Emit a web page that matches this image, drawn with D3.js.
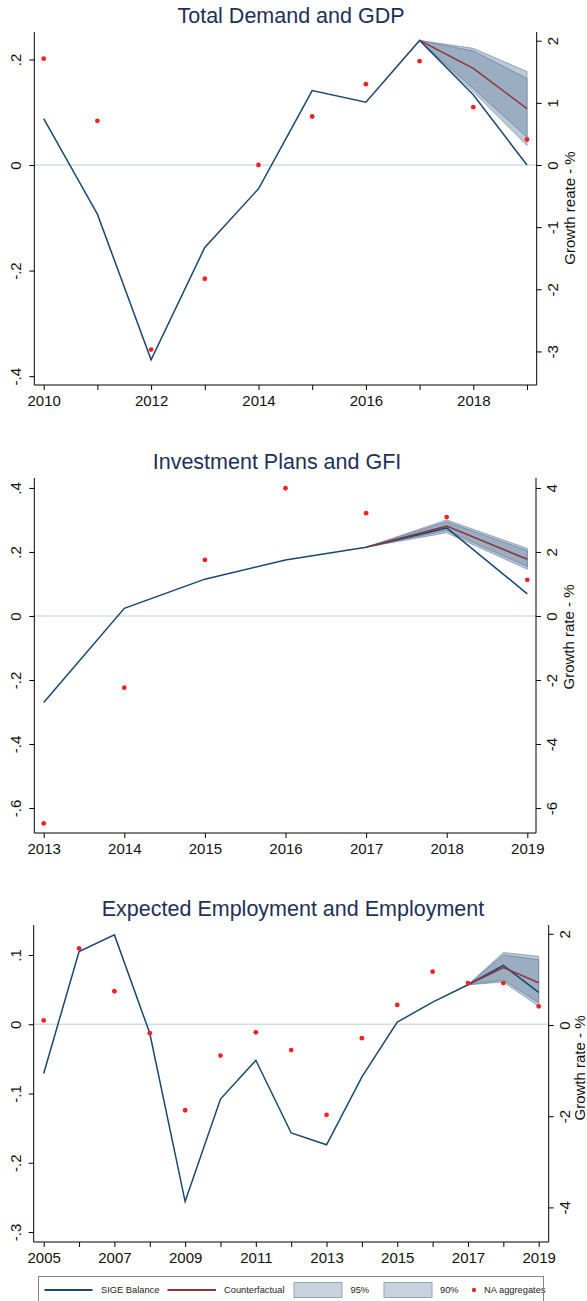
<!DOCTYPE html>
<html>
<head>
<meta charset="utf-8">
<script src="https://cdn.jsdelivr.net/npm/d3@7"></script>
<style>
  html, body { margin: 0; padding: 0; background: #ffffff; }
  svg { display: block; }
</style>
</head>
<body>
<svg id="chart" width="587" height="1301"></svg>
<script>
// ---------------- Total Demand and GDP ----------------
const gdpYears = [2010, 2011, 2012, 2013, 2014, 2015, 2016, 2017, 2018, 2019];
const gdpSige = [0.088, -0.093, -0.369, -0.156, -0.045, 0.141, 0.119, 0.236, 0.133, 0.000];
const gdpNA = [1.71, 0.71, -2.97, -1.83, 0.00, 0.78, 1.30, 1.67, 0.93, 0.41];
const gdpCfYears = [2017, 2018, 2019];
const gdpCf = [0.236, 0.183, 0.107];
const gdpLo95 = [0.236, 0.139, 0.037];
const gdpHi95 = [0.236, 0.221, 0.177];
const gdpLo90 = [0.236, 0.145, 0.053];
const gdpHi90 = [0.236, 0.216, 0.164];
const gdpXLabels = [2010, 2012, 2014, 2016, 2018];
const gdpLeftTicks = [0.2, 0, -0.2, -0.4];
const gdpRightTicks = [2, 1, 0, -1, -2, -3];

// ---------------- Investment Plans and GFI ----------------
const gfiYears = [2013, 2014, 2015, 2016, 2017, 2018, 2019];
const gfiSige = [-0.270, 0.024, 0.115, 0.175, 0.215, 0.275, 0.069];
const gfiNA = [-6.48, -2.24, 1.75, 3.99, 3.21, 3.09, 1.13];
const gfiCfYears = [2017, 2018, 2019];
const gfiCf = [0.215, 0.281, 0.177];
const gfiLo95 = [0.215, 0.260, 0.146];
const gfiHi95 = [0.215, 0.300, 0.211];
const gfiLo90 = [0.215, 0.267, 0.154];
const gfiHi90 = [0.215, 0.294, 0.204];
const gfiXLabels = [2013, 2014, 2015, 2016, 2017, 2018, 2019];
const gfiLeftTicks = [0.4, 0.2, 0, -0.2, -0.4, -0.6];
const gfiRightTicks = [4, 2, 0, -2, -4, -6];

// ---------------- Expected Employment and Employment ----------------
const empYears = [2005, 2006, 2007, 2008, 2009, 2010, 2011, 2012, 2013, 2014, 2015, 2016, 2017, 2018, 2019];
const empSige = [-0.071, 0.105, 0.129, -0.013, -0.256, -0.108, -0.052, -0.157, -0.174, -0.076, 0.003, 0.032, 0.057, 0.085, 0.046];
const empNA = [0.10, 1.68, 0.74, -0.18, -1.87, -0.67, -0.16, -0.55, -1.97, -0.29, 0.44, 1.17, 0.92, 0.92, 0.41];
const empCfYears = [2017, 2018, 2019];
const empCf = [0.057, 0.082, 0.060];
const empLo95 = [0.057, 0.061, 0.026];
const empHi95 = [0.057, 0.1035, 0.098];
const empLo90 = [0.057, 0.064, 0.031];
const empHi90 = [0.057, 0.100, 0.093];
const empXLabels = [2005, 2007, 2009, 2011, 2013, 2015, 2017, 2019];
const empLeftTicks = [0.1, 0, -0.1, -0.2, -0.3];
const empRightTicks = [2, 0, -2, -4];

// ---------------- legend ----------------
const legendLabels = ["SIGE Balance", "Counterfactual", "95%", "90%", "NA aggregates"];

// ---------------- styles ----------------
const FONT = "'Liberation Sans', Arial, Helvetica, sans-serif";
const C_TITLE = "#1f3057";
const C_SIGE = "#1a476f";
const C_CF = "#90353b";
const C_DOT = "#f02424";
const C_ZERO = "#d3dde6";
const C_BAND95 = "#bdc9d6";
const C_BAND95_EDGE = "#8197af";
const C_BAND90 = "#9badc0";
const C_BAND90_EDGE = "#6f87a3";
const C_PATCH = "#c8d2dd";
const C_PATCH_EDGE = "#95a4b5";

const svg = d3.select("#chart").attr("font-family", FONT);

const fmtLeft = v => v === 0 ? "0" : String(v).replace("0.", ".");
const fmtRight = v => String(v);

function drawPanel(p) {
  const g = svg.append("g");
  const x = d3.scaleLinear()
    .domain([p.years[0], p.years[p.years.length - 1]])
    .range([p.x0, p.x1]);
  const yL = d3.scaleLinear().domain(p.leftDomain).range([p.bottom, p.top]);
  const yR = d3.scaleLinear().domain(p.rightDomain).range([p.bottom, p.top]);

  // title
  g.append("text")
    .attr("x", p.titleX).attr("y", p.titleY)
    .attr("text-anchor", "middle")
    .attr("font-size", 21.5)
    .attr("fill", C_TITLE)
    .text(p.title);

  // zero reference line
  g.append("line")
    .attr("x1", p.left).attr("x2", p.right)
    .attr("y1", yL(0)).attr("y2", yL(0))
    .attr("stroke", C_ZERO).attr("stroke-width", 1.6);

  // confidence bands around the counterfactual
  const band = (lo, hi) => d3.area()
    .x((d, i) => x(p.cfYears[i]))
    .y0((d, i) => yL(lo[i]))
    .y1((d, i) => yL(hi[i]));
  g.append("path").datum(p.cfYears)
    .attr("d", band(p.lo95, p.hi95))
    .attr("fill", C_BAND95).attr("stroke", C_BAND95_EDGE).attr("stroke-width", 0.8);
  g.append("path").datum(p.cfYears)
    .attr("d", band(p.lo90, p.hi90))
    .attr("fill", C_BAND90).attr("stroke", C_BAND90_EDGE).attr("stroke-width", 0.8);

  // SIGE balance
  g.append("path").datum(p.sige)
    .attr("d", d3.line().x((d, i) => x(p.years[i])).y(d => yL(d)))
    .attr("fill", "none").attr("stroke", C_SIGE).attr("stroke-width", 1.5)
    .attr("stroke-linejoin", "miter");

  // counterfactual
  g.append("path").datum(p.cf)
    .attr("d", d3.line().x((d, i) => x(p.cfYears[i])).y(d => yL(d)))
    .attr("fill", "none").attr("stroke", C_CF).attr("stroke-width", 1.5);

  // national accounts aggregates (right axis)
  g.selectAll("circle.na").data(p.na).join("circle")
    .attr("class", "na")
    .attr("cx", (d, i) => x(p.years[i]))
    .attr("cy", d => yR(d))
    .attr("r", 2.4)
    .attr("fill", C_DOT);

  // left axis
  const gL = g.append("g").attr("transform", `translate(${p.left},0)`)
    .call(d3.axisLeft(yL).tickValues(p.leftTicks).tickFormat(fmtLeft).tickSize(5).tickSizeOuter(0));
  gL.select(".domain").attr("d", `M0,${p.top}V${p.bottom}`);
  gL.selectAll("text")
    .attr("transform", "rotate(-90)")
    .attr("x", 0).attr("y", -13).attr("dy", 0)
    .attr("text-anchor", "middle");

  // right axis
  const gR = g.append("g").attr("transform", `translate(${p.right},0)`)
    .call(d3.axisRight(yR).tickValues(p.rightTicks).tickFormat(fmtRight).tickSize(5).tickSizeOuter(0));
  gR.select(".domain").attr("d", `M0,${p.top}V${p.bottom}`);
  gR.selectAll("text")
    .attr("transform", "rotate(-90)")
    .attr("x", 0).attr("y", 21).attr("dy", 0)
    .attr("text-anchor", "middle");

  // bottom axis
  const gB = g.append("g").attr("transform", `translate(0,${p.bottom})`)
    .call(d3.axisBottom(x).tickValues(p.years)
      .tickFormat(d => p.xLabels.includes(d) ? String(d) : "")
      .tickSize(5).tickSizeOuter(0));
  gB.select(".domain").attr("d", `M${p.left},0H${p.right}`);
  gB.selectAll("text").attr("y", 21).attr("dy", 0);

  [gL, gR, gB].forEach(a => {
    a.attr("font-family", FONT).attr("font-size", 15);
    a.selectAll("text").attr("fill", "#111");
    a.selectAll("line, path").attr("stroke", "#000").attr("stroke-width", 1);
  });

  // right axis title
  g.append("text")
    .attr("transform", `translate(${p.rtX},${p.rtY}) rotate(-90)`)
    .attr("text-anchor", "middle")
    .attr("font-size", 15)
    .attr("fill", "#111")
    .text(p.rightTitle);
}

drawPanel({
  title: "Total Demand and GDP", titleX: 291, titleY: 23,
  rightTitle: "Growth reate - %", rtX: 575, rtY: 208,
  years: gdpYears, sige: gdpSige, na: gdpNA,
  cfYears: gdpCfYears, cf: gdpCf,
  lo95: gdpLo95, hi95: gdpHi95, lo90: gdpLo90, hi90: gdpHi90,
  xLabels: gdpXLabels, leftTicks: gdpLeftTicks, rightTicks: gdpRightTicks,
  left: 34.3, right: 536.7, top: 32, bottom: 385,
  x0: 43.7, x1: 527,
  leftDomain: [-0.4167, 0.252], rightDomain: [-3.54, 2.14]
});

drawPanel({
  title: "Investment Plans and GFI", titleX: 277, titleY: 469,
  rightTitle: "Growth rate - %", rtX: 574, rtY: 637,
  years: gfiYears, sige: gfiSige, na: gfiNA,
  cfYears: gfiCfYears, cf: gfiCf,
  lo95: gfiLo95, hi95: gfiHi95, lo90: gfiLo90, hi90: gfiHi90,
  xLabels: gfiXLabels, leftTicks: gfiLeftTicks, rightTicks: gfiRightTicks,
  left: 34.3, right: 536, top: 478, bottom: 833,
  x0: 43.7, x1: 527.3,
  leftDomain: [-0.678, 0.431], rightDomain: [-6.78, 4.31]
});

drawPanel({
  title: "Expected Employment and Employment", titleX: 293, titleY: 916,
  rightTitle: "Growth rate - %", rtX: 585, rtY: 1068,
  years: empYears, sige: empSige, na: empNA,
  cfYears: empCfYears, cf: empCf,
  lo95: empLo95, hi95: empHi95, lo90: empLo90, hi90: empHi90,
  xLabels: empXLabels, leftTicks: empLeftTicks, rightTicks: empRightTicks,
  left: 33.7, right: 548.7, top: 925, bottom: 1242,
  x0: 43.7, x1: 538.7,
  leftDomain: [-0.3144, 0.1433], rightDomain: [-4.759, 2.193]
});

// ---------------- legend ----------------
const lg = svg.append("g").attr("font-size", 9.3).attr("fill", "#222");
const ly = 1290;
lg.append("line").attr("x1", 44.5).attr("x2", 92.5).attr("y1", ly).attr("y2", ly)
  .attr("stroke", C_SIGE).attr("stroke-width", 2);
lg.append("text").attr("x", 101).attr("y", ly + 3.3).text(legendLabels[0]);
lg.append("line").attr("x1", 167.5).attr("x2", 216).attr("y1", ly).attr("y2", ly)
  .attr("stroke", C_CF).attr("stroke-width", 2);
lg.append("text").attr("x", 224).attr("y", ly + 3.3).text(legendLabels[1]);
lg.append("rect").attr("x", 294).attr("y", ly - 7.5).attr("width", 48).attr("height", 15)
  .attr("fill", C_PATCH).attr("stroke", C_PATCH_EDGE).attr("stroke-width", 1);
lg.append("text").attr("x", 350.5).attr("y", ly + 3.3).text(legendLabels[2]);
lg.append("rect").attr("x", 384).attr("y", ly - 7.5).attr("width", 48).attr("height", 15)
  .attr("fill", C_PATCH).attr("stroke", C_PATCH_EDGE).attr("stroke-width", 1);
lg.append("text").attr("x", 440).attr("y", ly + 3.3).text(legendLabels[3]);
lg.append("circle").attr("cx", 474).attr("cy", ly).attr("r", 2.2).attr("fill", C_DOT);
lg.append("text").attr("x", 484).attr("y", ly + 3.3).text(legendLabels[4]);
lg.append("rect").attr("x", 38.5).attr("y", 1276.5).attr("width", 505).attr("height", 40)
  .attr("fill", "none").attr("stroke", "#858585").attr("stroke-width", 1);
</script>
</body>
</html>
